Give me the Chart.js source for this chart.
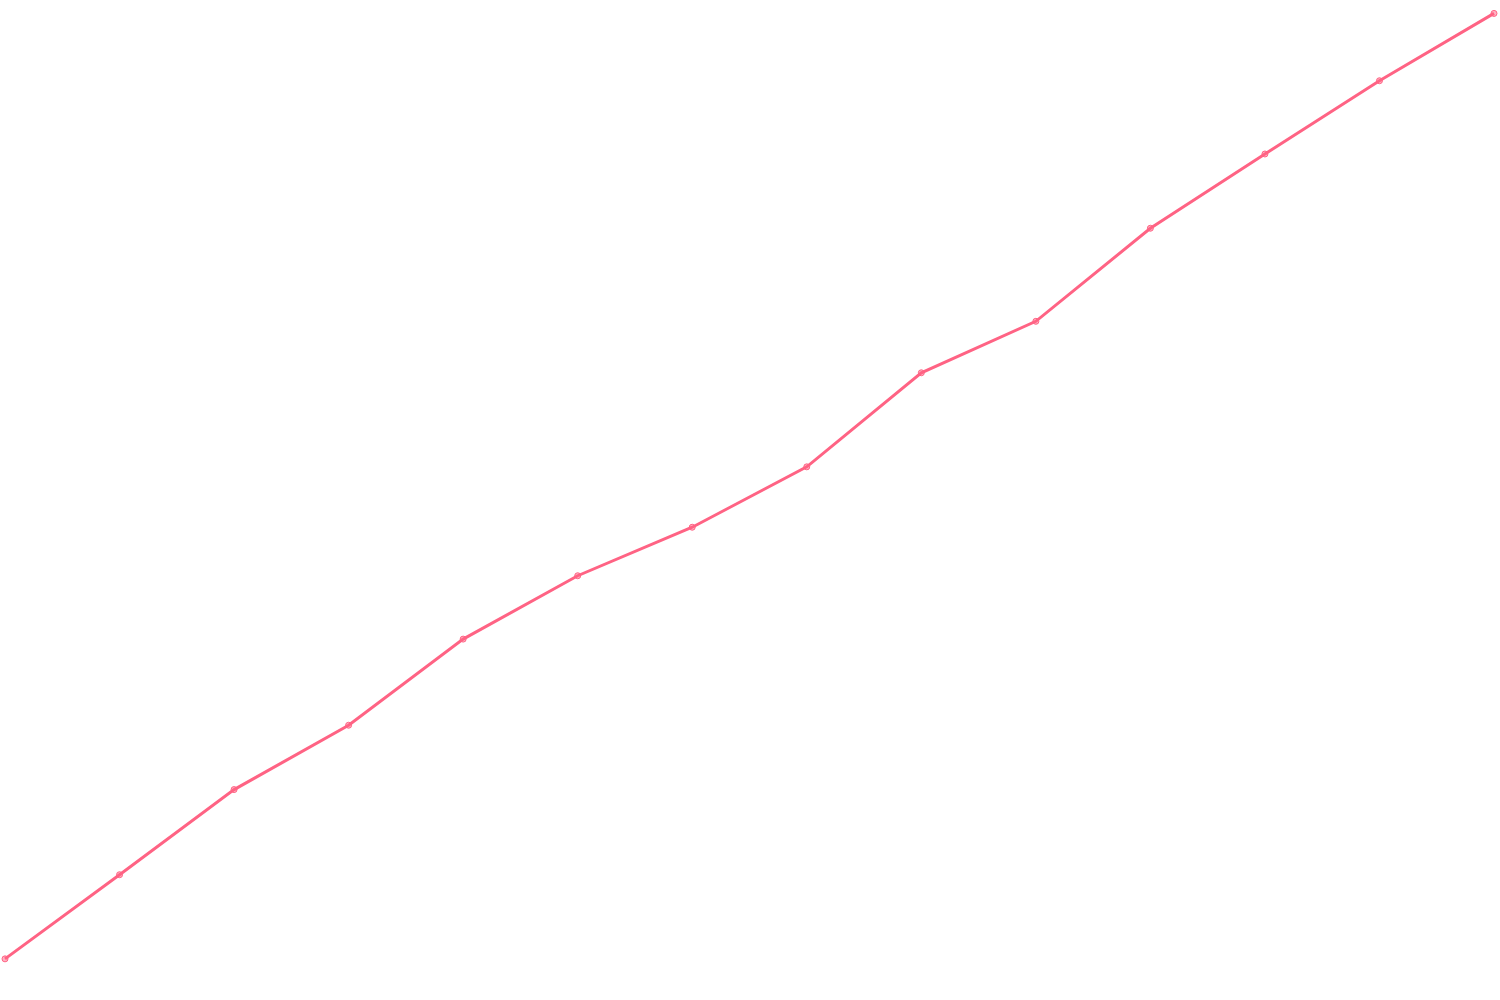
<!DOCTYPE html>
<html>
<head>
<meta charset="utf-8">
<script src="https://cdn.jsdelivr.net/npm/chart.js@4"></script>
<style>
  html, body { margin: 0; padding: 0; background: #fff; }
  #wrap { width: 1500px; height: 1000px; }
</style>
</head>
<body>
<div id="wrap"><canvas id="chart"></canvas></div>
<script>
const labels = ['1', '2', '3', '4', '5', '6', '7', '8', '9', '10', '11', '12', '13', '14'];
const values = [3.65, 12.15, 20.75, 27.25, 35.95, 42.35, 47.25, 53.35, 62.85, 68.05, 77.45, 84.95, 92.35, 99.15];

function newChart(id, labeldata, chartdata) {
  const ctx = document.getElementById(id).getContext('2d');
  return new Chart(ctx, {
    type: 'line',
    data: {
      labels: labeldata,
      datasets: [{
        label: 'series',
        data: chartdata,
        borderColor: 'rgb(255, 99, 132)',
        backgroundColor: 'rgba(255, 99, 132, 0.5)',
        borderWidth: 3,
        pointRadius: 3,
        pointBorderWidth: 1
      }]
    },
    options: {
      responsive: true,
      maintainAspectRatio: false,
      animation: false,
      layout: { padding: { left: 5, right: 6, top: 5, bottom: 5 } },
      scales: {
        x: { display: false },
        y: { display: false, min: 0, max: 100 }
      },
      plugins: {
        legend: { display: false },
        tooltip: { enabled: false }
      }
    }
  });
}

newChart('chart', labels, values);
</script>
</body>
</html>
